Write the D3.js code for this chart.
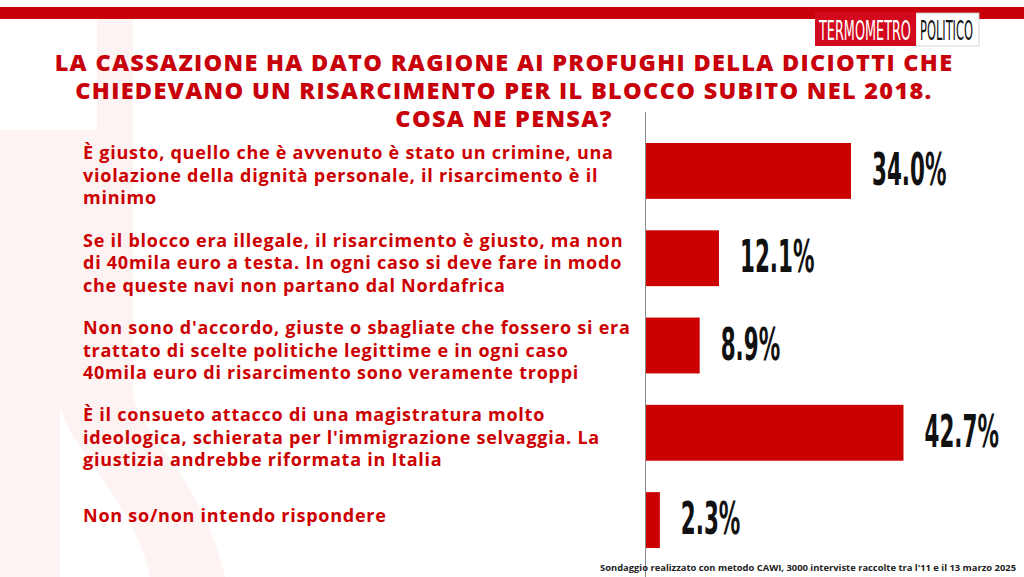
<!DOCTYPE html>
<html><head><meta charset="utf-8">
<script src="https://cdn.jsdelivr.net/npm/d3@7"></script>
<style>html,body{margin:0;padding:0;background:#fff;overflow:hidden}</style>
</head><body>
<svg id="c" width="1024" height="577"></svg>
<script>
const titleLines = [
  "LA CASSAZIONE HA DATO RAGIONE AI PROFUGHI DELLA DICIOTTI CHE",
  "CHIEDEVANO UN RISARCIMENTO PER IL BLOCCO SUBITO NEL 2018.",
  "COSA NE PENSA?"
];
const categories = [
  "È giusto, quello che è avvenuto è stato un crimine, una|violazione della dignità  personale, il risarcimento è il|minimo",
  "Se il blocco era illegale, il risarcimento è giusto, ma non|di 40mila euro a testa. In ogni caso si deve fare in modo|che queste navi non partano dal Nordafrica",
  "Non sono d'accordo, giuste o sbagliate che fossero si era|trattato di scelte politiche legittime e in ogni caso|40mila euro di risarcimento sono veramente troppi",
  "È il consueto attacco di una magistratura molto|ideologica, schierata per l'immigrazione selvaggia. La|giustizia andrebbe riformata in Italia",
  "Non so/non intendo rispondere"
];
const values = [34.0, 12.1, 8.9, 42.7, 2.3];
const footnote = "Sondaggio realizzato con metodo CAWI, 3000 interviste raccolte tra l'11 e il 13 marzo 2025";

const RED = "#cc0000";
const svg = d3.select("#c");

// faint background watermark
const wm = svg.append("g").attr("fill", "#fdf3f3");
wm.append("rect").attr("x", 97).attr("y", 19).attr("width", 36).attr("height", 120);
wm.append("rect").attr("x", 0).attr("y", 130).attr("width", 60).attr("height", 447);
wm.append("path").attr("d", "M60,130 L133,130 L133,390 C133,430 200,470 225,577 L150,577 C135,500 60,440 60,400 Z");

// top stripe
svg.append("rect").attr("x", 0).attr("y", 7).attr("width", 1024).attr("height", 12).attr("fill", "#c8000a");

// logo
const logo = svg.append("g");
logo.append("rect").attr("x", 916).attr("y", 13).attr("width", 63).attr("height", 33).attr("fill", "#fff")
  .attr("stroke", "#ccc").attr("stroke-width", 0.8);
logo.append("rect").attr("x", 815).attr("y", 12).attr("width", 101).attr("height", 34).attr("fill", "#d20a1e");
function fitText(txt, x0, yb, w, fill) {
  const t = logo.append("text").attr("font-family", "Liberation Sans Narrow, DejaVu Sans Condensed, sans-serif")
    .attr("font-size", 27).attr("fill", fill).text(txt);
  const len = t.node().getComputedTextLength();
  t.attr("transform", `translate(${x0},${yb}) scale(${w / len},1)`);
}
fitText("TERMOMETRO", 819, 40, 92, "#fff");
fitText("POLITICO", 920, 40, 53, "#111");

// title
svg.append("g").selectAll("text").data(titleLines).join("text")
  .attr("x", 504).attr("y", (d, i) => 71 + i * 28)
  .attr("text-anchor", "middle")
  .attr("font-family", "Open Sans, sans-serif").attr("font-weight", 800)
  .attr("font-size", 23.5).attr("letter-spacing", 1.3).attr("fill", "#c8000a").text(d => d);

// scales
const x = d3.scaleLinear().domain([0, 50]).range([646, 947.5]);
const y = d3.scaleBand().domain(categories).range([143, 548]).paddingInner(0.36).paddingOuter(0);

// axis line
svg.append("line").attr("x1", 645.5).attr("x2", 645.5).attr("y1", 112).attr("y2", 577)
  .attr("stroke", "#8a8a8a").attr("stroke-width", 1);

// bars
svg.append("g").selectAll("rect").data(values).join("rect")
  .attr("x", x(0)).attr("y", (d, i) => y(categories[i]))
  .attr("width", d => x(d) - x(0)).attr("height", y.bandwidth())
  .attr("fill", RED);

// value labels
const vfmt = d3.format(".1f");
svg.append("g").selectAll("text").data(values).join("text")
  .attr("transform", (d, i) => `translate(${x(d) + 21},${y(categories[i]) + y.bandwidth() / 2 + 14}) scale(0.53,1)`)
  .attr("font-family", "Liberation Sans Narrow, DejaVu Sans Condensed, sans-serif")
  .attr("font-weight", 700).attr("font-size", 45).attr("fill", "#111")
  .text(d => vfmt(d) + "%");

// category labels
const lh = 22.5;
const lab = svg.append("g").selectAll("text").data(categories).join("text")
  .attr("font-family", "Open Sans, sans-serif").attr("font-weight", 700)
  .attr("font-size", 18).attr("letter-spacing", 0.75).attr("fill", RED);
lab.each(function (d) {
  const lines = d.split("|");
  const cy = y(d) + y.bandwidth() / 2 + (lines.length > 1 ? 5 : -4);
  const y0 = cy - (lines.length - 1) * lh / 2 + 6;
  d3.select(this).selectAll("tspan").data(lines).join("tspan")
    .attr("x", 83).attr("y", (l, j) => y0 + j * lh).text(l => l);
});

// footnote
svg.append("text").attr("x", 1016).attr("y", 571).attr("text-anchor", "end")
  .attr("font-family", "Open Sans, sans-serif").attr("font-weight", 700)
  .attr("font-size", 9.4).attr("fill", "#222").text(footnote);
</script>
</body></html>
